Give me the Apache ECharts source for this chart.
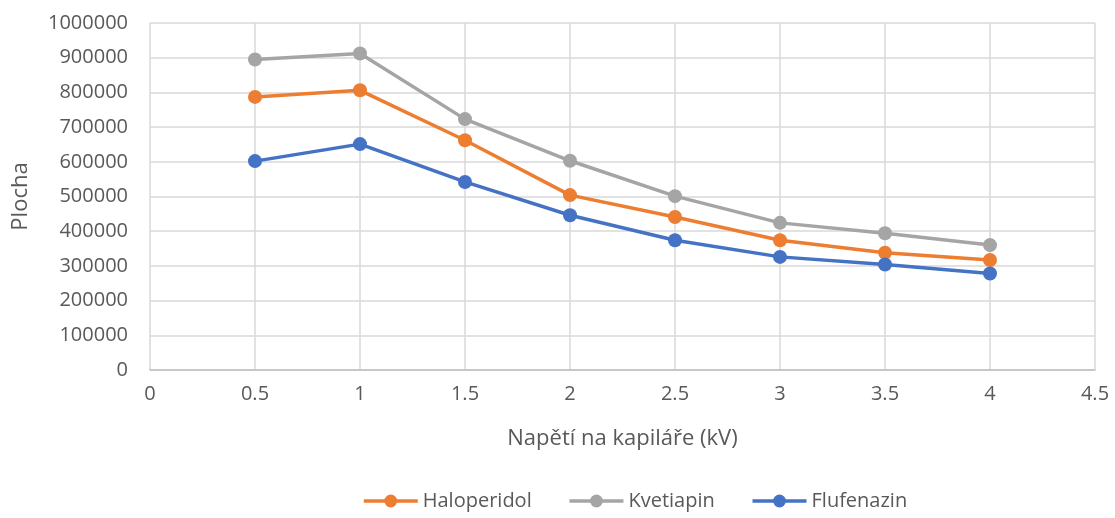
<!DOCTYPE html>
<html lang="cs">
<head>
    <meta charset="UTF-8">
    <title>Plocha vs. napětí na kapiláře</title>
    <script src="https://cdn.jsdelivr.net/npm/echarts/dist/echarts.min.js"></script>
    <style>
        * { margin: 0; padding: 0; }
        body { background: #fff; }
        #chart { width: 1115px; height: 518px; }
    </style>
</head>
<body>
    <div id="chart"></div>
    <script>
        const napeti = [0.5, 1, 1.5, 2, 2.5, 3, 3.5, 4];
        const haloperidol = [787000, 806000, 662000, 504000, 441000, 374000, 338000, 317000];
        const kvetiapin = [895000, 912000, 723000, 603000, 501000, 424000, 394000, 360000];
        const flufenazin = [602000, 651000, 542000, 446000, 374000, 326000, 304000, 278000];

        const textColor = '#595959';
        const font = '"Open Sans", "Noto Sans", sans-serif';

        function pairs(ys) {
            return napeti.map((x, i) => [x, ys[i]]);
        }

        function makeSeries(name, data, color) {
            return {
                name: name,
                type: 'line',
                data: pairs(data),
                symbol: 'circle',
                symbolSize: 14,
                lineStyle: { width: 3.5, color: color },
                itemStyle: { color: color },
                emphasis: { disabled: true }
            };
        }

        const chart = echarts.init(document.getElementById('chart'));
        chart.setOption({
            animation: false,
            textStyle: { fontFamily: font },
            grid: { left: 150, right: 20, top: 23, bottom: 148 },
            legend: {
                bottom: 2,
                left: 357,
                itemWidth: 54,
                itemHeight: 16,
                itemGap: 36,
                lineStyle: { width: 3.5 },
                textStyle: { fontSize: 20, color: textColor, fontFamily: font },
                data: ['Haloperidol', 'Kvetiapin', 'Flufenazin']
            },
            xAxis: {
                type: 'value',
                min: 0,
                max: 4.5,
                interval: 0.5,
                name: 'Napětí na kapiláře (kV)',
                nameLocation: 'middle',
                nameGap: 58,
                nameTextStyle: { fontSize: 22, color: textColor },
                axisLine: { lineStyle: { color: '#bfbfbf', width: 1.5 } },
                axisTick: { show: false },
                axisLabel: { fontSize: 20, color: textColor, margin: 14 },
                splitLine: { show: true, lineStyle: { color: '#d9d9d9', width: 1.5 } }
            },
            yAxis: {
                type: 'value',
                min: 0,
                max: 1000000,
                interval: 100000,
                name: 'Plocha',
                nameLocation: 'middle',
                nameGap: 118,
                nameTextStyle: { fontSize: 22, color: textColor },
                axisLine: { show: false },
                axisTick: { show: false },
                axisLabel: { fontSize: 20, color: textColor, margin: 22, formatter: v => String(v) },
                splitLine: { lineStyle: { color: '#d9d9d9', width: 1.5 } }
            },
            series: [
                makeSeries('Haloperidol', haloperidol, '#ED7D31'),
                makeSeries('Kvetiapin', kvetiapin, '#A5A5A5'),
                makeSeries('Flufenazin', flufenazin, '#4472C4')
            ]
        });
    </script>
</body>
</html>
